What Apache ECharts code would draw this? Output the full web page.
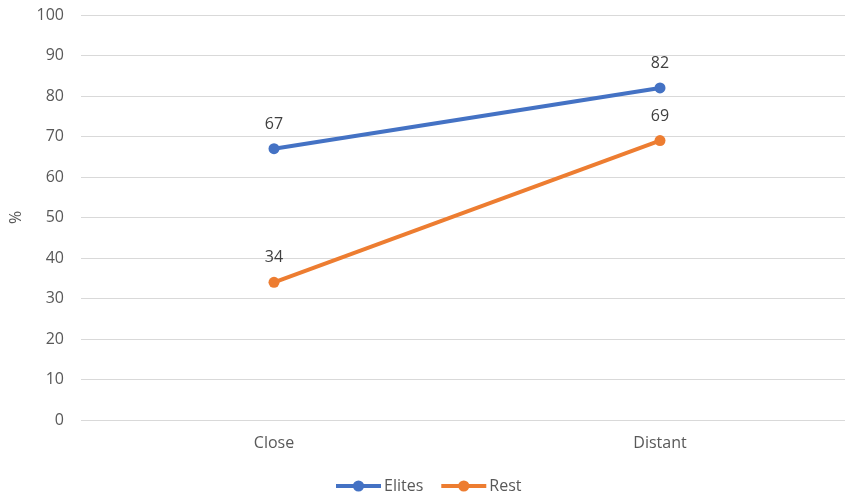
<!DOCTYPE html>
<html><head><meta charset="utf-8">
<script src="https://cdn.jsdelivr.net/npm/echarts@6/dist/echarts.min.js"></script>
<style>html,body{margin:0;padding:0;background:#fff;overflow:hidden}#c{width:853px;height:497px}</style>
</head><body><div id="c"></div>
<script>
const categories = ['Close', 'Distant'];
const elites = [67, 82];
const rest = [34, 69];
const yTicks = [0, 10, 20, 30, 40, 50, 60, 70, 80, 90, 100];

const font = '"Open Sans", "Liberation Sans", sans-serif';
const chart = echarts.init(document.getElementById('c'));
chart.setOption({
  animation: false,
  textStyle: { fontFamily: font },
  grid: { left: 79, right: 0, top: 15, bottom: 77, containLabel: false },
  legend: {
    top: 478, left: 334, padding: 0, itemWidth: 45, itemHeight: 14, itemGap: 16,
    lineStyle: { width: 4 },
    textStyle: { fontFamily: font, fontSize: 16, color: '#595959', padding: [0, 0, 0, -2] },
    data: ['Elites', 'Rest']
  },
  xAxis: {
    type: 'category', data: categories, boundaryGap: true,
    axisLine: { show: false }, axisTick: { show: false },
    axisLabel: { fontFamily: font, fontSize: 16, color: '#595959', margin: 15 }
  },
  yAxis: {
    type: 'value', min: yTicks[0], max: yTicks[yTicks.length - 1], interval: 10,
    name: '%', nameLocation: 'middle', nameGap: 57, nameRotate: 90,
    nameTextStyle: { fontFamily: font, fontSize: 16, color: '#595959' },
    axisLine: { show: false }, axisTick: { show: false },
    axisLabel: { fontFamily: font, fontSize: 16, color: '#595959', margin: 17 },
    splitLine: { lineStyle: { color: '#d9d9d9', width: 1 } }
  },
  series: [
    { name: 'Elites', type: 'line', data: elites, symbol: 'circle', symbolSize: 11,
      itemStyle: { color: '#4472C4' }, lineStyle: { width: 4, color: '#4472C4' },
      label: { show: true, position: 'top', distance: 11, fontFamily: font, fontSize: 16, color: '#404040' } },
    { name: 'Rest', type: 'line', data: rest, symbol: 'circle', symbolSize: 11,
      itemStyle: { color: '#ED7D31' }, lineStyle: { width: 4, color: '#ED7D31' },
      label: { show: true, position: 'top', distance: 11, fontFamily: font, fontSize: 16, color: '#404040' } }
  ]
});
</script></body></html>
